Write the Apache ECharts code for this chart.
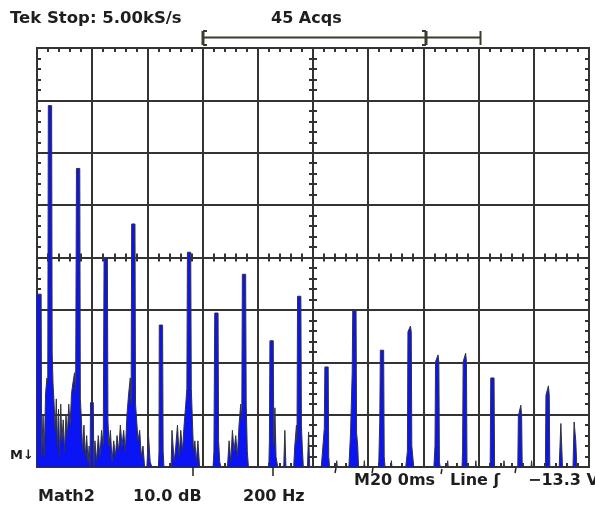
<!DOCTYPE html>
<html><head><meta charset="utf-8">
<script src="https://cdn.jsdelivr.net/npm/echarts/dist/echarts.min.js"></script>
<style>html,body{margin:0;padding:0;background:#fff}#c{width:595px;height:509px}</style>
</head><body><div id="c"></div>
<script>
// ---- data (frequency in Hz, level in dB above screen bottom; 10 dB/div, 8 div) ----
const freqMin = 0;
const freqMax = 2000;
const freqDiv = 200;          // 200 Hz / div
const freqMinorTick = 40;     // 1/5 div
const levelMin = 0;
const levelMax = 80;
const levelDiv = 10;          // 10 dB / div
const levelMinorTick = 2;

const spectrumHz = [
  0,15,17,22,26,31,36,39,
  41,53,55,58,62,66,70,74,78,82,86,90,95,100,105,110,115,120,125,130,136,140,
  143,155,157,161,165,170,175,180,185,189,192,
  194,204,206,210,216,222,228,234,240,
  243,255,257,261,266,272,278,284,290,296,302,308,314,320,326,332,338,341,
  343,355,357,361,366,372,378,384,390,398,404,410,416,440,442,
  443,455,457,460,486,489,494,497,503,509,515,521,527,533,539,543,
  545,557,559,563,567,572,577,583,589,638,641,
  644,656,658,662,666,690,696,702,708,714,720,726,732,738,742,
  744,756,758,762,766,840,842,
  844,856,858,862,866,872,894,898,902,930,934,940,942,
  944,956,958,961,965,980,984,988,
  1030,1036,1041,1043,1055,1057,1060,1084,1086,1088,
  1130,1136,1142,1144,1156,1158,1162,1165,1184,1186,1188,
  1238,1242,1244,1256,1258,1261,1282,1284,1286,
  1336,1342,1344,1353,1356,1358,1362,1365,
  1438,1442,1444,1453,1456,1458,1461,1486,1488,1490,
  1540,1542,1544,1553,1556,1558,1588,1590,1592,
  1642,1644,1656,1658,1690,1692,1694,
  1742,1744,1753,1756,1758,1790,1792,1794,
  1842,1844,1853,1856,1858,
  1892,1898,1904,
  1942,1946,1952,1956,2000
];
const spectrumDb = [
  33,33,2,10,2,14,17,16,
  69,69,22,16,12,7,13,4,11,2,12,5,9,3,10,6,12,8,14,16,18,14,
  57,57,13,9,3,8,2,6,1,4,0,
  12.3,12.3,0,5,1,6,2,7,4,
  40,40,9,4,7,1,5,2,6,3,8,4,7,3,10,14,17,12,
  46.4,46.4,12,9,5,7,2,4,0,0,6,1,0,0,3,
  27.1,27.1,3,0,0,7,7,1,4,8,2,7,3,8,12,15,
  41,41,15,9,3,5,1,5,0,0,3,
  29.4,29.4,5,1,0,0,5,1,7,3,6,2,8,12,9,
  36.8,36.8,12,3,0,0,5,
  24.1,24.1,4,11.3,2,0,0,7,0,0,4,8,5,
  32.6,32.6,8,4,0,0,6.7,0,
  0,4,7.4,19.1,19.1,2,0,0,1.2,0,
  0,6.5,18,29.8,29.8,6.5,4,0,0,1.2,0,
  0,9,22.3,22.3,2,0,0,1.2,0,
  0,3,25.8,26.9,25.8,4,4,0,
  0,4,20.1,21.4,20.1,1,0,0,1.2,0,
  0,3,20.1,21.7,20.1,0,0,1.2,0,
  0,17,17,0,0,1.2,0,
  0,9.7,11.8,9.7,0,0,1.2,0,
  0,13.7,15.5,13.7,0,
  0,8.3,0,
  0,8.6,5,0,0
];

const headerLeft = 'Tek Stop: 5.00kS/s';
const headerAcq = '45 Acqs';
const refMarker = 'M\u2193';
const footChannel = 'Math2';
const footVScale = '10.0 dB';
const footHScale = '200 Hz';
const footTime = 'M20 0ms';
const footTrig = 'Line \u0283';
const footLevel = '\u221213.3 V';

// ---- layout ----
const G = {left: 37, top: 48, width: 552, height: 419};
const gridColor = '#333333';
const FONT = '"DejaVu Sans", Verdana, sans-serif';

const seriesData = spectrumHz.map((f, i) => [f, spectrumDb[i]]);

const chart = echarts.init(document.getElementById('c'), null, {renderer: 'canvas'});

function hStrip(top, h) {
  return {left: G.left, width: G.width, top: top, height: h};
}
function vStrip(left, w) {
  return {left: left, width: w, top: G.top, height: G.height};
}
const grids = [
  {left: G.left, top: G.top, width: G.width, height: G.height, show: true,
   borderColor: gridColor, borderWidth: 2, backgroundColor: '#fff'},
  hStrip(G.top, 4),
  hStrip(G.top + G.height - 4, 4),
  hStrip(G.top + G.height / 2 - 4, 8),
  vStrip(G.left, 4),
  vStrip(G.left + G.width - 4, 4),
  vStrip(G.left + G.width / 2 - 4, 8)
];
const tickLine = {show: true, lineStyle: {color: gridColor, width: 2}};
const xAxes = [{
  gridIndex: 0, type: 'value', min: freqMin, max: freqMax, interval: freqDiv,
  axisLine: {show: false}, axisTick: {show: false}, axisLabel: {show: false},
  splitLine: {show: true, lineStyle: {color: gridColor, width: 2}}
}];
const yAxes = [{
  gridIndex: 0, type: 'value', min: levelMin, max: levelMax, interval: levelDiv,
  axisLine: {show: false}, axisTick: {show: false}, axisLabel: {show: false},
  splitLine: {show: true, lineStyle: {color: gridColor, width: 2}}
}];
for (let g = 1; g <= 6; g++) {
  const horiz = g <= 3;
  xAxes.push({
    gridIndex: g, type: 'value', min: freqMin, max: freqMax, interval: freqMinorTick,
    axisLine: {show: false}, axisTick: {show: false}, axisLabel: {show: false},
    splitLine: horiz ? tickLine : {show: false}
  });
  yAxes.push({
    gridIndex: g, type: 'value', min: levelMin, max: levelMax, interval: levelMinorTick,
    axisLine: {show: false}, axisTick: {show: false}, axisLabel: {show: false},
    splitLine: horiz ? {show: false} : tickLine
  });
}

function txt(text, x, y, size, extra) {
  return Object.assign({
    type: 'text', x: x, y: y, z: 100,
    style: {text: text, fill: '#1e1e1e', font: 'bold ' + size + 'px ' + FONT,
            align: 'left', verticalAlign: 'middle'}
  }, extra || {});
}
const bracketColor = '#3c3c2c';
function seg(x1, y1, x2, y2, w, c) {
  return {type: 'line', z: 100, shape: {x1: x1, y1: y1, x2: x2, y2: y2},
          style: {stroke: c || bracketColor, lineWidth: w || 2}};
}

const graphics = [
  txt(headerLeft, 10, 19, 16.5),
  txt(headerAcq, 271, 19, 16),
  seg(203, 37.5, 481, 37.5, 2),
  seg(203, 31, 203, 45, 3), seg(203, 31, 207, 31, 2), seg(203, 45, 207, 45, 2),
  seg(426, 31, 426, 45, 3), seg(422, 31, 426, 31, 2), seg(422, 45, 426, 45, 2),
  seg(480.5, 31, 480.5, 45, 2),
  txt(refMarker, 10, 456, 13),
  txt(footChannel, 38, 497, 16),
  txt(footVScale, 133, 497, 16),
  txt(footHScale, 243, 497, 16),
  txt(footTime, 354, 481, 16),
  txt(footTrig, 450, 481, 16),
  txt(footLevel, 528, 481, 16),
  seg(336, 468, 335, 473, 1.5, '#222'),
  seg(373, 468, 372, 473, 1.5, '#222'),
  seg(442, 469, 441, 474, 1.5, '#222'),
  seg(516, 468, 515, 473, 1.5, '#222'),
  seg(193, 467, 193, 476, 1.5, '#222'),
  seg(273, 467, 273, 476, 1.5, '#222')
];

chart.setOption({
  animation: false,
  backgroundColor: '#ffffff',
  grid: grids,
  xAxis: xAxes,
  yAxis: yAxes,
  series: [{
    type: 'line', xAxisIndex: 0, yAxisIndex: 0, data: seriesData,
    showSymbol: false, symbol: 'none', sampling: null, z: 5,
    lineStyle: {color: '#333338', width: 1},
    areaStyle: {color: '#0a14f5', opacity: 1}
  }],
  graphic: graphics
});
</script>
</body></html>
